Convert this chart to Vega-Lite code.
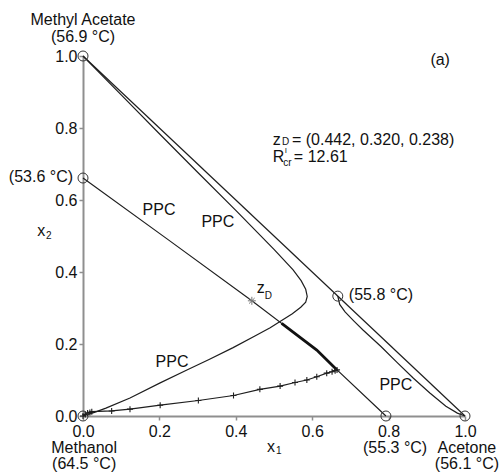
{
  "$schema": "https://vega.github.io/schema/vega-lite/v6.json",
  "width": 382,
  "height": 360,
  "autosize": {"type": "none"},
  "padding": {"left": 83, "top": 56, "right": 34, "bottom": 56},
  "background": "white",
  "config": {"view": {"stroke": null}, "font": "Liberation Sans"},
  "datasets": {
    "curves": [
      {"curve": "edge", "order": 0, "x1": 0, "x2": 1},
      {"curve": "edge", "order": 1, "x1": 1, "x2": 0},

      {"curve": "ppc_ma", "order": 0, "x1": 0, "x2": 1},
      {"curve": "ppc_ma", "order": 1, "x1": 0.1, "x2": 0.892},
      {"curve": "ppc_ma", "order": 2, "x1": 0.2, "x2": 0.784},
      {"curve": "ppc_ma", "order": 3, "x1": 0.3, "x2": 0.677},
      {"curve": "ppc_ma", "order": 4, "x1": 0.4, "x2": 0.571},
      {"curve": "ppc_ma", "order": 5, "x1": 0.5, "x2": 0.463},
      {"curve": "ppc_ma", "order": 6, "x1": 0.55, "x2": 0.406},
      {"curve": "ppc_ma", "order": 7, "x1": 0.571, "x2": 0.376},
      {"curve": "ppc_ma", "order": 8, "x1": 0.583, "x2": 0.352},
      {"curve": "ppc_ma", "order": 9, "x1": 0.587, "x2": 0.332},
      {"curve": "ppc_ma", "order": 10, "x1": 0.583, "x2": 0.316},
      {"curve": "ppc_ma", "order": 11, "x1": 0.57, "x2": 0.302},
      {"curve": "ppc_ma", "order": 12, "x1": 0.548, "x2": 0.284},
      {"curve": "ppc_ma", "order": 13, "x1": 0.52, "x2": 0.265},
      {"curve": "ppc_ma", "order": 14, "x1": 0.49, "x2": 0.245},
      {"curve": "ppc_ma", "order": 15, "x1": 0.45, "x2": 0.222},
      {"curve": "ppc_ma", "order": 16, "x1": 0.393, "x2": 0.19},
      {"curve": "ppc_ma", "order": 17, "x1": 0.33, "x2": 0.157},
      {"curve": "ppc_ma", "order": 18, "x1": 0.272, "x2": 0.128},
      {"curve": "ppc_ma", "order": 19, "x1": 0.202, "x2": 0.092},
      {"curve": "ppc_ma", "order": 20, "x1": 0.123, "x2": 0.05},
      {"curve": "ppc_ma", "order": 21, "x1": 0.06, "x2": 0.022},
      {"curve": "ppc_ma", "order": 22, "x1": 0.03, "x2": 0.01},
      {"curve": "ppc_ma", "order": 23, "x1": 0, "x2": 0},

      {"curve": "boundary", "order": 0, "x1": 0, "x2": 0.661},
      {"curve": "boundary", "order": 1, "x1": 0.22, "x2": 0.492},
      {"curve": "boundary", "order": 2, "x1": 0.442, "x2": 0.32},
      {"curve": "boundary", "order": 3, "x1": 0.612, "x2": 0.183},
      {"curve": "boundary", "order": 4, "x1": 0.665, "x2": 0.128},
      {"curve": "boundary", "order": 5, "x1": 0.793, "x2": 0},

      {"curve": "ppc_az", "order": 0, "x1": 0.667, "x2": 0.333},
      {"curve": "ppc_az", "order": 1, "x1": 0.672, "x2": 0.31},
      {"curve": "ppc_az", "order": 2, "x1": 0.686, "x2": 0.289},
      {"curve": "ppc_az", "order": 3, "x1": 0.71, "x2": 0.263},
      {"curve": "ppc_az", "order": 4, "x1": 0.733, "x2": 0.239},
      {"curve": "ppc_az", "order": 5, "x1": 0.78, "x2": 0.193},
      {"curve": "ppc_az", "order": 6, "x1": 0.822, "x2": 0.149},
      {"curve": "ppc_az", "order": 7, "x1": 0.865, "x2": 0.105},
      {"curve": "ppc_az", "order": 8, "x1": 0.908, "x2": 0.064},
      {"curve": "ppc_az", "order": 9, "x1": 0.95, "x2": 0.027},
      {"curve": "ppc_az", "order": 10, "x1": 0.98, "x2": 0.008},
      {"curve": "ppc_az", "order": 11, "x1": 1, "x2": 0},

      {"curve": "stripping", "order": 0, "x1": 0.0, "x2": 0.0},
      {"curve": "stripping", "order": 1, "x1": 0.006, "x2": 0.004},
      {"curve": "stripping", "order": 2, "x1": 0.012, "x2": 0.008},
      {"curve": "stripping", "order": 3, "x1": 0.018, "x2": 0.01},
      {"curve": "stripping", "order": 4, "x1": 0.023, "x2": 0.012},
      {"curve": "stripping", "order": 5, "x1": 0.075, "x2": 0.014},
      {"curve": "stripping", "order": 6, "x1": 0.123, "x2": 0.019},
      {"curve": "stripping", "order": 7, "x1": 0.202, "x2": 0.03},
      {"curve": "stripping", "order": 8, "x1": 0.302, "x2": 0.043},
      {"curve": "stripping", "order": 9, "x1": 0.394, "x2": 0.057},
      {"curve": "stripping", "order": 10, "x1": 0.463, "x2": 0.074},
      {"curve": "stripping", "order": 11, "x1": 0.516, "x2": 0.083},
      {"curve": "stripping", "order": 12, "x1": 0.555, "x2": 0.093},
      {"curve": "stripping", "order": 13, "x1": 0.586, "x2": 0.1},
      {"curve": "stripping", "order": 14, "x1": 0.612, "x2": 0.109},
      {"curve": "stripping", "order": 15, "x1": 0.638, "x2": 0.119},
      {"curve": "stripping", "order": 16, "x1": 0.652, "x2": 0.123},
      {"curve": "stripping", "order": 17, "x1": 0.66, "x2": 0.126},
      {"curve": "stripping", "order": 18, "x1": 0.665, "x2": 0.128},

      {"curve": "rectifying", "order": 0, "x1": 0.665, "x2": 0.128},
      {"curve": "rectifying", "order": 1, "x1": 0.612, "x2": 0.183},
      {"curve": "rectifying", "order": 2, "x1": 0.52, "x2": 0.257}
    ],
    "azeotropes": [
      {"x1": 0, "x2": 1},
      {"x1": 0, "x2": 0.661},
      {"x1": 0, "x2": 0},
      {"x1": 0.667, "x2": 0.333},
      {"x1": 0.793, "x2": 0},
      {"x1": 1, "x2": 0}
    ],
    "feed": [{"x1": 0.442, "x2": 0.32}],
    "labels": [
      {"kind": "center", "text": "Methyl Acetate", "x1": 0, "x2": 1.1},
      {"kind": "center", "text": "(56.9 °C)", "x1": 0, "x2": 1.053},
      {"kind": "center", "text": "Methanol", "x1": 0.003, "x2": -0.089},
      {"kind": "center", "text": "(64.5 °C)", "x1": 0.003, "x2": -0.133},
      {"kind": "center", "text": "(55.3 °C)", "x1": 0.817, "x2": -0.089},
      {"kind": "center", "text": "Acetone", "x1": 1.005, "x2": -0.089},
      {"kind": "center", "text": "(56.1 °C)", "x1": 1.005, "x2": -0.133},
      {"kind": "center", "text": "PPC", "x1": 0.199, "x2": 0.572},
      {"kind": "center", "text": "PPC", "x1": 0.353, "x2": 0.539},
      {"kind": "center", "text": "PPC", "x1": 0.233, "x2": 0.15},
      {"kind": "center", "text": "PPC", "x1": 0.819, "x2": 0.086},
      {"kind": "center", "text": "(a)", "x1": 0.935, "x2": 0.989},
      {"kind": "left", "text": "z", "x1": 0.497, "x2": 0.767},
      {"kind": "left", "text": "= (0.442, 0.320, 0.238)", "x1": 0.547, "x2": 0.767},
      {"kind": "left", "text": "R", "x1": 0.497, "x2": 0.719},
      {"kind": "left", "text": "= 12.61", "x1": 0.552, "x2": 0.719},
      {"kind": "left", "text": "(55.8 °C)", "x1": 0.696, "x2": 0.336},
      {"kind": "left", "text": "z", "x1": 0.455, "x2": 0.356},
      {"kind": "left", "text": "x", "x1": 0.482, "x2": -0.086},
      {"kind": "left", "text": "x", "x1": -0.12, "x2": 0.514},
      {"kind": "right", "text": "(53.6 °C)", "x1": -0.026, "x2": 0.664},
      {"kind": "small", "text": "D", "x1": 0.521, "x2": 0.761},
      {"kind": "tiny", "text": "I", "x1": 0.528, "x2": 0.736},
      {"kind": "small", "text": "cr", "x1": 0.524, "x2": 0.703},
      {"kind": "small", "text": "D", "x1": 0.476, "x2": 0.333},
      {"kind": "small", "text": "1", "x1": 0.505, "x2": -0.097},
      {"kind": "small", "text": "2", "x1": -0.097, "x2": 0.5}
    ]
  },
  "encoding": {
    "x": {
      "field": "x1",
      "type": "quantitative",
      "scale": {"domain": [0, 1], "nice": false, "zero": false},
      "axis": {
        "values": [0, 0.2, 0.4, 0.6, 0.8, 1],
        "format": ".1f",
        "title": null,
        "grid": false,
        "domainColor": "#8f8f8f",
        "domainWidth": 2,
        "tickColor": "#8f8f8f",
        "tickWidth": 1.5,
        "tickSize": 4,
        "labelFont": "Liberation Sans",
        "labelFontSize": 16,
        "labelColor": "#111111",
        "labelPadding": 3,
        "labelFlush": false,
        "labelOverlap": false
      }
    },
    "y": {
      "field": "x2",
      "type": "quantitative",
      "scale": {"domain": [0, 1], "nice": false, "zero": false},
      "axis": {
        "values": [0, 0.2, 0.4, 0.6, 0.8, 1],
        "format": ".1f",
        "title": null,
        "grid": false,
        "domainColor": "#8f8f8f",
        "domainWidth": 2,
        "tickColor": "#8f8f8f",
        "tickWidth": 1.5,
        "tickSize": 4,
        "labelFont": "Liberation Sans",
        "labelFontSize": 16,
        "labelColor": "#111111",
        "labelPadding": 2,
        "labelFlush": false,
        "labelOverlap": false
      }
    }
  },
  "layer": [
    {
      "data": {"name": "curves"},
      "transform": [{"filter": "datum.curve != 'rectifying'"}],
      "mark": {"type": "line", "color": "#1e1e1e", "strokeWidth": 1.2},
      "encoding": {
        "detail": {"field": "curve"},
        "order": {"field": "order", "type": "quantitative"}
      }
    },
    {
      "data": {"name": "curves"},
      "transform": [{"filter": "datum.curve == 'rectifying'"}],
      "mark": {"type": "line", "color": "#111111", "strokeWidth": 2.8},
      "encoding": {
        "order": {"field": "order", "type": "quantitative"}
      }
    },
    {
      "data": {"name": "curves"},
      "transform": [{"filter": "datum.curve == 'stripping'"}],
      "mark": {
        "type": "point",
        "shape": "M0,-1V1M-1,0H1",
        "filled": false,
        "size": 36,
        "color": "#1e1e1e",
        "strokeWidth": 1.1,
        "opacity": 1
      }
    },
    {
      "data": {"name": "feed"},
      "mark": {
        "type": "point",
        "shape": "M-1,0H1M0,-1V1M-0.7,-0.7L0.7,0.7M-0.7,0.7L0.7,-0.7",
        "filled": false,
        "size": 64,
        "color": "#777777",
        "strokeWidth": 1,
        "opacity": 1
      }
    },
    {
      "data": {"name": "azeotropes"},
      "mark": {
        "type": "point",
        "shape": "circle",
        "filled": false,
        "size": 100,
        "color": "#333333",
        "strokeWidth": 1,
        "opacity": 1
      }
    },
    {
      "data": {"name": "labels"},
      "transform": [{"filter": "datum.kind == 'center'"}],
      "mark": {"type": "text", "font": "Liberation Sans", "fontSize": 16, "color": "#111111", "align": "center", "baseline": "middle"},
      "encoding": {"text": {"field": "text"}}
    },
    {
      "data": {"name": "labels"},
      "transform": [{"filter": "datum.kind == 'left'"}],
      "mark": {"type": "text", "font": "Liberation Sans", "fontSize": 16, "color": "#111111", "align": "left", "baseline": "middle"},
      "encoding": {"text": {"field": "text"}}
    },
    {
      "data": {"name": "labels"},
      "transform": [{"filter": "datum.kind == 'right'"}],
      "mark": {"type": "text", "font": "Liberation Sans", "fontSize": 16, "color": "#111111", "align": "right", "baseline": "middle"},
      "encoding": {"text": {"field": "text"}}
    },
    {
      "data": {"name": "labels"},
      "transform": [{"filter": "datum.kind == 'small'"}],
      "mark": {"type": "text", "font": "Liberation Sans", "fontSize": 10, "color": "#111111", "align": "left", "baseline": "middle"},
      "encoding": {"text": {"field": "text"}}
    },
    {
      "data": {"name": "labels"},
      "transform": [{"filter": "datum.kind == 'tiny'"}],
      "mark": {"type": "text", "font": "Liberation Sans", "fontSize": 8, "color": "#111111", "align": "left", "baseline": "middle"},
      "encoding": {"text": {"field": "text"}}
    }
  ]
}
